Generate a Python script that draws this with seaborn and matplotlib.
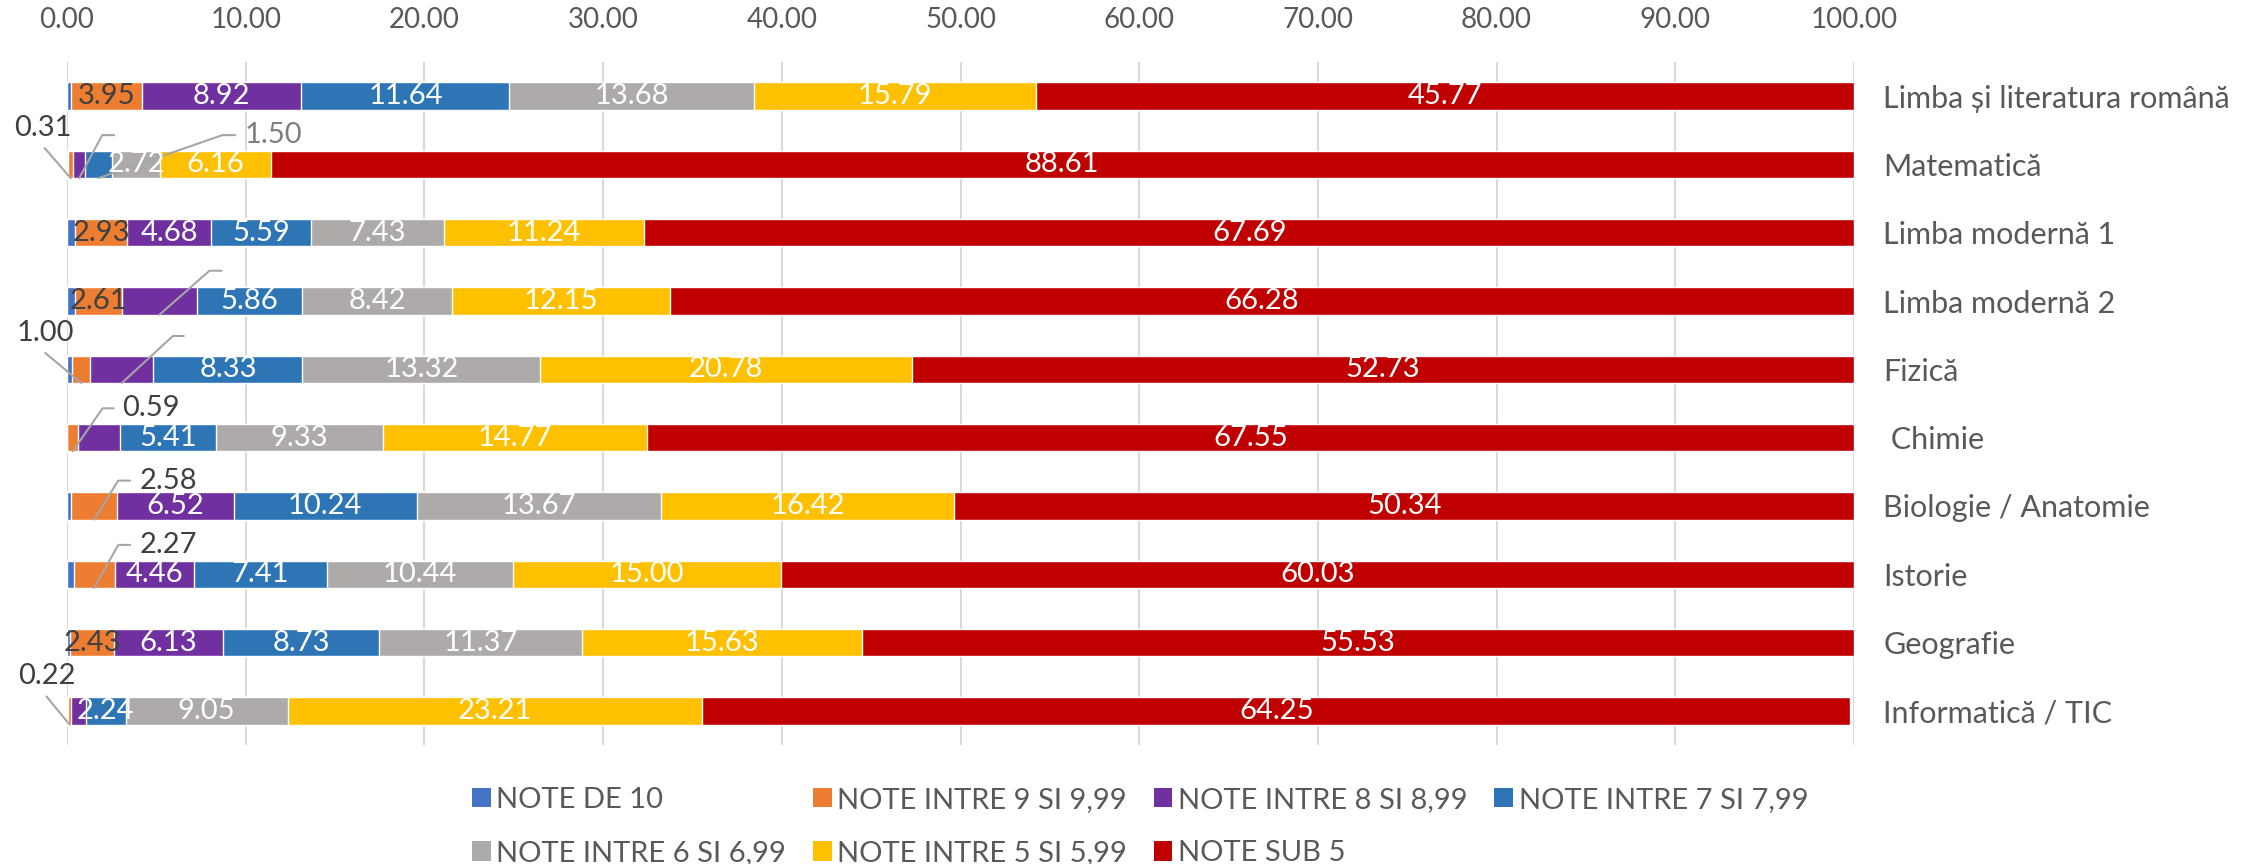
import numpy as np
import pandas as pd
import matplotlib
matplotlib.use("Agg")
import matplotlib.pyplot as plt
from matplotlib.patches import Patch
import seaborn as sns

# data
subjects = ["Limba și literatura română", "Matematică", "Limba modernă 1",
            "Limba modernă 2", "Fizică", " Chimie", "Biologie / Anatomie",
            "Istorie", "Geografie", "Informatică / TIC"]
series = ["NOTE DE 10", "NOTE INTRE 9 SI 9,99", "NOTE INTRE 8 SI 8,99",
          "NOTE INTRE 7 SI 7,99", "NOTE INTRE 6 SI 6,99", "NOTE INTRE 5 SI 5,99",
          "NOTE SUB 5"]
note10 = [0.25, 0.05, 0.44, 0.45, 0.30, 0.02, 0.23, 0.39, 0.18, 0.03]
note9 = [3.95, 0.31, 2.93, 2.61, 1.00, 0.59, 2.58, 2.27, 2.43, 0.22]
note8 = [8.92, 0.65, 4.68, 4.23, 3.54, 2.33, 6.52, 4.46, 6.13, 0.80]
note7 = [11.64, 1.50, 5.59, 5.86, 8.33, 5.41, 10.24, 7.41, 8.73, 2.24]
note6 = [13.68, 2.72, 7.43, 8.42, 13.32, 9.33, 13.67, 10.44, 11.37, 9.05]
note5 = [15.79, 6.16, 11.24, 12.15, 20.78, 14.77, 16.42, 15.00, 15.63, 23.21]
sub5 = [45.77, 88.61, 67.69, 66.28, 52.73, 67.55, 50.34, 60.03, 55.53, 64.25]

colors = ["#4472C4", "#ED7D31", "#7030A0", "#2E75B6", "#AEAAAA", "#FFC000", "#C00000"]
label_colors = ["white", "#404040", "white", "white", "white", "white", "white"]

# callouts: (row, series index, text, text colour, line offsets px (y down), text offset px, ha)
callouts = [
    (1, 1, "0.31", "#404040", [(0, 0), (-26, -30)], (-28, -50), "center"),
    (1, 2, "", "#404040", [(0, 0), (23, -43), (35, -43)], None, "left"),
    (1, 3, "1.50", "#7F7F7F", [(0, 0), (124, -43), (137, -43)], (146, -43), "left"),
    (3, 2, "", "#404040", [(0, 0), (50, -44), (62, -44)], None, "left"),
    (4, 1, "1.00", "#404040", [(0, 0), (-36, -30)], (-36, -50), "center"),
    (4, 2, "", "#404040", [(0, 0), (51, -47), (62, -47)], None, "left"),
    (5, 1, "0.59", "#404040", [(0, 0), (30, -43), (41, -43)], (49, -43), "left"),
    (6, 1, "2.58", "#404040", [(0, 0), (24, -39), (36, -39)], (45, -39), "left"),
    (7, 1, "2.27", "#404040", [(0, 0), (24, -43), (36, -43)], (45, -43), "left"),
    (9, 1, "0.22", "#404040", [(0, 0), (-23, -28)], (-23, -49), "center"),
]
no_label = {(5, 2)}

sns.set_theme(style="white")
plt.rcParams["font.family"] = ["Lato", "DejaVu Sans"]

vals = np.array([note10, note9, note8, note7, note6, note5, sub5])
cum = vals.cumsum(axis=0)
starts = cum - vals

fig = plt.figure(figsize=(22.61, 8.64), dpi=100)
ax = fig.add_axes([67 / 2261, 1 - 745 / 864, (1854 - 67) / 2261, (745 - 62) / 864])

df = pd.DataFrame({"subject": subjects})
for k in range(len(series) - 1, -1, -1):
    df["v"] = cum[k]
    sns.barplot(data=df, x="v", y="subject", color=colors[k], width=0.4,
                orient="h", errorbar=None, saturation=1, ax=ax, zorder=2)

ax.set_xlim(0, 100)
ax.set_ylim(9.5, -0.5)
ax.set_xticks(np.arange(0, 101, 10))
ax.set_xticklabels([f"{t:.2f}" for t in np.arange(0, 101, 10)])
ax.xaxis.tick_top()
ax.yaxis.tick_right()
ax.tick_params(axis="x", length=0, pad=21, labelsize=20, labelcolor="#595959")
ax.tick_params(axis="y", length=0, pad=21, labelsize=22, labelcolor="#595959")
for lab in ax.get_yticklabels():
    lab.set_horizontalalignment("left")
ax.set_xlabel("")
ax.set_ylabel("")
ax.grid(axis="x", color="#D9D9D9", linewidth=1.5, zorder=0)
ax.set_axisbelow(True)
for s in ax.spines.values():
    s.set_visible(False)

called = {(c[0], c[1]) for c in callouts}
# inside labels
for i in range(len(subjects)):
    for k in range(len(series)):
        v = vals[k, i]
        if v < 2.2 or (i, k) in called or (i, k) in no_label:
            continue
        ax.text(starts[k, i] + v / 2, i, f"{v:.2f}", ha="center", va="center",
                fontsize=21, color=label_colors[k], zorder=5)

# callouts with leader lines
for row, k, txt, tcol, line, toff, ha in callouts:
    ax0 = starts[k, row] + vals[k, row] / 2
    anchor = ax.transData.transform((ax0, row + 0.2))
    pts = np.array([(anchor[0] + dx, anchor[1] - dy) for dx, dy in line])
    dpts = ax.transData.inverted().transform(pts)
    ax.plot(dpts[:, 0], dpts[:, 1], color="#A6A6A6", linewidth=1.5, zorder=4,
            clip_on=False)
    if txt:
        ax.annotate(txt, xy=(ax0, row + 0.2), xytext=(toff[0], -toff[1]),
                    textcoords="offset pixels", ha=ha, va="center",
                    fontsize=21, color=tcol, zorder=5, annotation_clip=False)

handles = [Patch(facecolor=c, edgecolor="none") for c in colors]
order = [0, 4, 1, 5, 2, 6, 3]
fig.legend([handles[j] for j in order], [series[j] for j in order],
           loc="upper left", bbox_to_anchor=(460 / 2261, 1 - 775 / 864),
           ncol=4, frameon=False, fontsize=21, labelcolor="#595959",
           handlelength=0.65, handleheight=0.65, handletextpad=0.2,
           columnspacing=0.9, labelspacing=0.95, borderaxespad=0)

fig.savefig("out.png", dpi=100)
